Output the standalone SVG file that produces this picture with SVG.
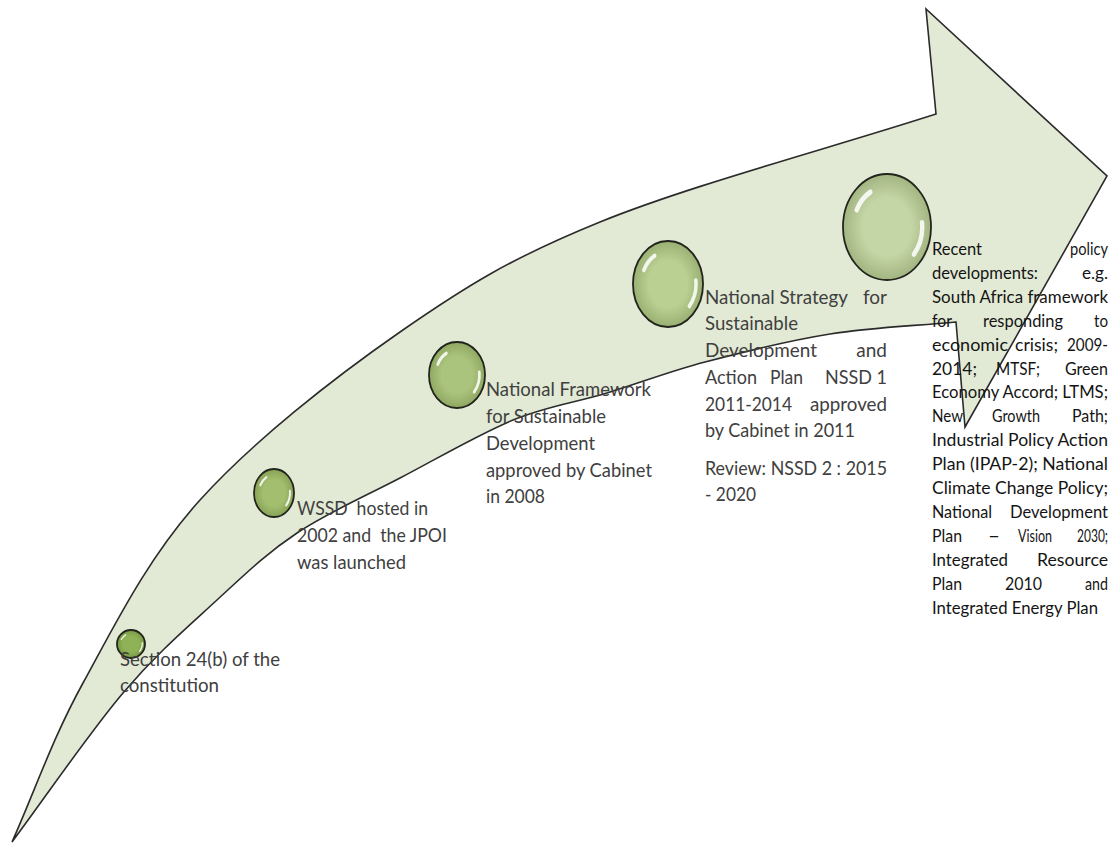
<svg xmlns="http://www.w3.org/2000/svg" xmlns:xlink="http://www.w3.org/1999/xlink" width="1114" height="845" viewBox="0 0 1114 845">
<style>
.arrow{fill:#e2ead5;stroke:#2b2b2b;stroke-width:1.6;stroke-linejoin:miter}
.bub{stroke:#1e1e1e;stroke-width:1.8}
.shade{fill:url(#shade);stroke:none}
.hl{fill:none;stroke:#ffffff;stroke-width:5;stroke-linecap:round;opacity:0.85}
.t{font-family:Lato,"Liberation Sans","DejaVu Sans",sans-serif;font-size:19px;fill:#404040}
.r{font-family:Lato,"Liberation Sans","DejaVu Sans",sans-serif;font-size:17px;fill:#141414}
.e{text-anchor:end}
</style>
<defs>
<radialGradient id="shade" cx="50%" cy="50%" r="50%">
<stop offset="0.55" stop-color="#3a5010" stop-opacity="0"/>
<stop offset="1" stop-color="#3a5010" stop-opacity="0.25"/>
</radialGradient>
<path id="hl" class="hl" d="M-34.4,-16.1 A38,38 0 0 1 -19,-32.9 M39.8,-4.2 A40,40 0 0 1 30.6,25.7"/>
</defs>
<rect width="1114" height="845" fill="#ffffff"/>
<g id="connectors">
<path id="timeline-arrow" class="arrow" d="M12,842 C35.7,789 51.7,740 83,683 C114.3,626 147.2,558.5 200,500 C252.8,441.5 333.3,378.3 400,332 C466.7,285.7 510.7,258.3 600,222 C689.3,185.7 824,150 936,114 L926,9 L1107,176 L965,427 L956,322 C914,326 871.8,327.3 830,334 C788.2,340.7 742.2,352.2 705,362 C667.8,371.8 639,383.3 607,393 C575,402.7 547.5,405.8 513,420 C478.5,434.2 436,459.2 400,478 C364,496.8 327.5,512.7 297,533 C266.5,553.3 246,573.3 217,600 C188,626.7 157.2,652.7 123,693 C88.8,733.3 49,792.3 12,842 Z"/>
</g>
<g id="node-section24">
<ellipse class="bub" cx="131" cy="644" rx="14" ry="14" fill="#8fb257"/>
<ellipse class="shade" cx="131" cy="644" rx="14" ry="14"/>
<use xlink:href="#hl" transform="translate(131,644) scale(0.28)"/>
<text class="t" x="120" y="666" textLength="160" lengthAdjust="spacingAndGlyphs">Section 24(b) of the</text>
<text class="t" x="120" y="692" textLength="99" lengthAdjust="spacingAndGlyphs">constitution</text>
</g>
<g id="node-wssd">
<ellipse class="bub" cx="274" cy="493" rx="20" ry="24" fill="#a2be6e"/>
<ellipse class="shade" cx="274" cy="493" rx="20" ry="24"/>
<use xlink:href="#hl" transform="translate(274,493) scale(0.4,0.48)"/>
<text class="t" x="297" y="515" textLength="131" lengthAdjust="spacingAndGlyphs" xml:space="preserve">WSSD  hosted in</text>
<text class="t" x="297" y="542" textLength="150" lengthAdjust="spacingAndGlyphs" xml:space="preserve">2002 and  the JPOI</text>
<text class="t" x="297" y="569" textLength="109" lengthAdjust="spacingAndGlyphs">was launched</text>
</g>
<g id="node-nfsd">
<ellipse class="bub" cx="457" cy="375" rx="28" ry="33" fill="#abc47d"/>
<ellipse class="shade" cx="457" cy="375" rx="28" ry="33"/>
<use xlink:href="#hl" transform="translate(457,375) scale(0.56,0.66)"/>
<text class="t" x="486" y="396" textLength="165" lengthAdjust="spacingAndGlyphs">National Framework</text>
<text class="t" x="486" y="423" textLength="120" lengthAdjust="spacingAndGlyphs">for Sustainable</text>
<text class="t" x="486" y="450" textLength="109" lengthAdjust="spacingAndGlyphs">Development</text>
<text class="t" x="486" y="477" textLength="166" lengthAdjust="spacingAndGlyphs">approved by Cabinet</text>
<text class="t" x="486" y="503" textLength="59" lengthAdjust="spacingAndGlyphs">in 2008</text>
</g>
<g id="node-nssd">
<ellipse class="bub" cx="668" cy="284" rx="35" ry="43" fill="#bad093"/>
<ellipse class="shade" cx="668" cy="284" rx="35" ry="43"/>
<use xlink:href="#hl" transform="translate(668,284) scale(0.7,0.86)"/>
<text class="t" x="705" y="304" textLength="143" lengthAdjust="spacingAndGlyphs">National Strategy</text>
<text class="t e" x="887" y="304">for</text>
<text class="t" x="705" y="330" textLength="93" lengthAdjust="spacingAndGlyphs">Sustainable</text>
<text class="t" x="705" y="357" textLength="112" lengthAdjust="spacingAndGlyphs">Development</text>
<text class="t e" x="887" y="357">and</text>
<text class="t" x="705" y="384" textLength="52" lengthAdjust="spacingAndGlyphs">Action</text>
<text class="t" x="770" y="384" textLength="33" lengthAdjust="spacingAndGlyphs">Plan</text>
<text class="t" x="825" y="384" textLength="62" lengthAdjust="spacingAndGlyphs">NSSD 1</text>
<text class="t" x="705" y="411" textLength="87" lengthAdjust="spacingAndGlyphs">2011-2014</text>
<text class="t" x="810" y="411" textLength="77" lengthAdjust="spacingAndGlyphs">approved</text>
<text class="t" x="705" y="437" textLength="150" lengthAdjust="spacingAndGlyphs">by Cabinet in 2011</text>
<text class="t" x="705" y="475" textLength="182" lengthAdjust="spacingAndGlyphs">Review: NSSD 2 : 2015</text>
<text class="t" x="705" y="501" textLength="51" lengthAdjust="spacingAndGlyphs">- 2020</text>
</g>
<g id="node-recent">
<ellipse class="bub" cx="887" cy="227" rx="44" ry="53" fill="#c5d6a6"/>
<ellipse class="shade" cx="887" cy="227" rx="44" ry="53"/>
<use xlink:href="#hl" transform="translate(887,227) scale(0.88,1.06)"/>
<text class="r" x="932" y="255" textLength="50" lengthAdjust="spacingAndGlyphs">Recent</text>
<text class="r" x="1070" y="255" textLength="38" lengthAdjust="spacingAndGlyphs">policy</text>
<text class="r" x="932" y="278.9" textLength="106" lengthAdjust="spacingAndGlyphs">developments:</text>
<text class="r" x="1082" y="278.9" textLength="26" lengthAdjust="spacingAndGlyphs">e.g.</text>
<text class="r" x="932" y="302.8" textLength="176" lengthAdjust="spacingAndGlyphs">South Africa framework</text>
<text class="r" x="932" y="326.7" textLength="20" lengthAdjust="spacingAndGlyphs">for</text>
<text class="r" x="983" y="326.7" textLength="80" lengthAdjust="spacingAndGlyphs">responding</text>
<text class="r" x="1094" y="326.7" textLength="14" lengthAdjust="spacingAndGlyphs">to</text>
<text class="r" x="932" y="350.6" textLength="76" lengthAdjust="spacingAndGlyphs">economic</text>
<text class="r" x="1015" y="350.6" textLength="43" lengthAdjust="spacingAndGlyphs">crisis;</text>
<text class="r" x="1067" y="350.6" textLength="41" lengthAdjust="spacingAndGlyphs">2009-</text>
<text class="r" x="932" y="374.5" textLength="45" lengthAdjust="spacingAndGlyphs">2014;</text>
<text class="r" x="996" y="374.5" textLength="44" lengthAdjust="spacingAndGlyphs">MTSF;</text>
<text class="r" x="1065" y="374.5" textLength="43" lengthAdjust="spacingAndGlyphs">Green</text>
<text class="r" x="932" y="398.4" textLength="176" lengthAdjust="spacingAndGlyphs">Economy Accord; LTMS;</text>
<text class="r" x="932" y="422.3" textLength="31" lengthAdjust="spacingAndGlyphs">New</text>
<text class="r" x="992" y="422.3" textLength="48" lengthAdjust="spacingAndGlyphs">Growth</text>
<text class="r" x="1072" y="422.3" textLength="36" lengthAdjust="spacingAndGlyphs">Path;</text>
<text class="r" x="932" y="446.2" textLength="176" lengthAdjust="spacingAndGlyphs">Industrial Policy Action</text>
<text class="r" x="932" y="470.1" textLength="176" lengthAdjust="spacingAndGlyphs">Plan (IPAP-2); National</text>
<text class="r" x="932" y="494" textLength="176" lengthAdjust="spacingAndGlyphs">Climate Change Policy;</text>
<text class="r" x="932" y="517.9" textLength="60" lengthAdjust="spacingAndGlyphs">National</text>
<text class="r" x="1010" y="517.9" textLength="98" lengthAdjust="spacingAndGlyphs">Development</text>
<text class="r" x="932" y="541.8" textLength="30" lengthAdjust="spacingAndGlyphs">Plan</text>
<text class="r" x="988" y="541.8" textLength="12" lengthAdjust="spacingAndGlyphs">–</text>
<text class="r" x="1018" y="541.8" textLength="34" lengthAdjust="spacingAndGlyphs">Vision</text>
<text class="r" x="1077" y="541.8" textLength="31" lengthAdjust="spacingAndGlyphs">2030;</text>
<text class="r" x="932" y="565.7" textLength="76" lengthAdjust="spacingAndGlyphs">Integrated</text>
<text class="r" x="1037" y="565.7" textLength="71" lengthAdjust="spacingAndGlyphs">Resource</text>
<text class="r" x="932" y="589.6" textLength="30" lengthAdjust="spacingAndGlyphs">Plan</text>
<text class="r" x="1005" y="589.6" textLength="37" lengthAdjust="spacingAndGlyphs">2010</text>
<text class="r" x="1085" y="589.6" textLength="23" lengthAdjust="spacingAndGlyphs">and</text>
<text class="r" x="932" y="613.5" textLength="166" lengthAdjust="spacingAndGlyphs">Integrated Energy Plan</text>
</g>
</svg>
